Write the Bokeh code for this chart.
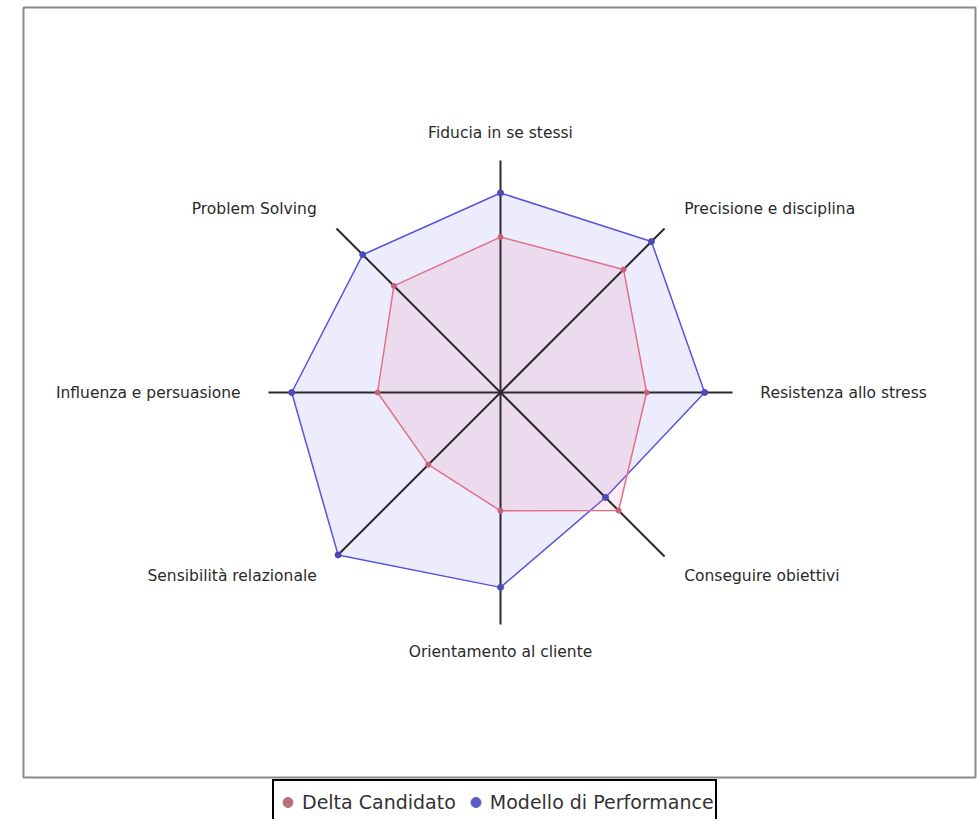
import math
from bokeh.plotting import figure
from bokeh.models import Range1d, Legend, LegendItem, ColumnDataSource
from bokeh.core.properties import value
from bokeh.embed import file_html
from bokeh.resources import INLINE

# ---- data ----
categories = ["Fiducia in se stessi", "Precisione e disciplina", "Resistenza allo stress",
              "Conseguire obiettivi", "Orientamento al cliente", "Sensibilità relazionale",
              "Influenza e persuasione", "Problem Solving"]
modello = [8.6, 9.2, 8.8, 6.4, 8.4, 9.9, 9.0, 8.4]
candidato = [6.7, 7.5, 6.3, 7.2, 5.1, 4.4, 5.3, 6.5]
series_names = ["Delta Candidato", "Modello di Performance"]
scale_max = 10.0

# ---- layout (screen pixels) ----
W, H = 977, 819
CX, CY, S = 500, 392, 23.2        # centre on page and pixels per unit
LABEL_R = 11.2

def ux(x):
    return (x - CX) / S

def uy(y):
    return (CY - y) / S

p = figure(width=W, height=H, output_backend="svg", toolbar_location=None,
           x_range=Range1d(ux(0), ux(W)), y_range=Range1d(uy(H), uy(0)),
           min_border=0, outline_line_color=None)
p.axis.visible = False
p.grid.visible = False
p.background_fill_color = "white"
p.border_fill_color = "white"

# outer frame
p.quad(left=[ux(23)], right=[ux(975)], top=[uy(7)], bottom=[uy(777)],
       fill_color=None, line_color="#8a8a8a", line_width=2)

n = len(categories)
angles = [2 * math.pi * i / n for i in range(n)]

def polar(vals):
    xs = [v * math.sin(a) for v, a in zip(vals, angles)]
    ys = [v * math.cos(a) for v, a in zip(vals, angles)]
    return xs, ys

bx, by = polar(modello)
rx, ry = polar(candidato)

blue_line = "#5656d8"
red_line = "#e2708a"

p.patch(bx, by, fill_color="#6b6bf0", fill_alpha=0.13, line_color=blue_line, line_width=1.5)
p.patch(rx, ry, fill_color="#f06a90", fill_alpha=0.13, line_color=red_line, line_width=1.5)

# spokes
ax_x, ax_y = polar([scale_max] * n)
p.segment(x0=[0] * n, y0=[0] * n, x1=ax_x, y1=ax_y, line_color="#2a2a2a", line_width=2)

p.scatter(bx, by, size=6, color="#4a4ab8")
p.scatter(rx, ry, size=5, color="#c86078")

# category labels
lx, ly = polar([LABEL_R] * n)
aligns = []
for a in angles:
    s = math.sin(a)
    aligns.append("center" if abs(s) < 1e-6 else ("left" if s > 0 else "right"))
src = ColumnDataSource(dict(x=lx, y=ly, t=categories, al=aligns))
p.text(x="x", y="y", text="t", text_align="al", text_baseline="middle", source=src,
       text_font=value("DejaVu Sans"), text_font_size="15.5px", text_color="#2a2a2a")

# legend (dummy off-screen renderers for the legend markers)
off_x, off_y = [ux(-60)], [uy(-60)]
r_red = p.scatter(x=off_x, y=off_y, size=11, color="#b87078")
r_blue = p.scatter(x=off_x, y=off_y, size=11, color="#5a5ac8")
legend = Legend(items=[LegendItem(label=series_names[0], renderers=[r_red]),
                       LegendItem(label=series_names[1], renderers=[r_blue])],
                orientation="horizontal", location=(272, -6),
                border_line_color="black", border_line_width=2, border_line_alpha=1,
                background_fill_color="white", background_fill_alpha=1,
                label_text_font="DejaVu Sans", label_text_font_size="19px",
                label_text_color="#333333", glyph_width=25, glyph_height=40,
                label_standoff=2, spacing=7, padding=1, margin=0)
p.add_layout(legend, "center")

open("out.html", "w").write(file_html(p, INLINE))
